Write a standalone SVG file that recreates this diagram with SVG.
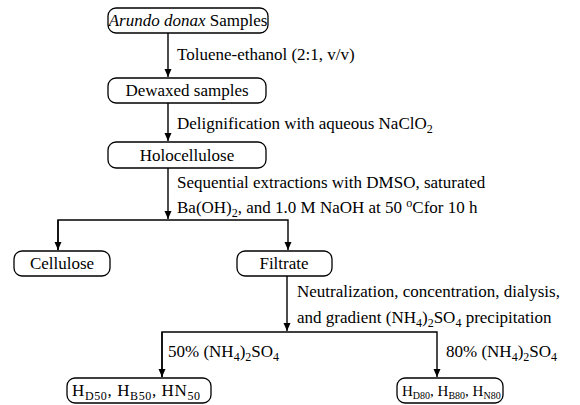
<svg xmlns="http://www.w3.org/2000/svg" width="580" height="405" viewBox="0 0 580 405">
<defs>
<marker id="ah" viewBox="0 0 8 12" refX="8" refY="6" markerWidth="8" markerHeight="12" markerUnits="userSpaceOnUse" orient="auto">
<path d="M0,2.5 L8,6 L0,9.5 Z" fill="#000"/>
</marker>
<style>
.box{fill:#fff;stroke:#000;stroke-width:1.3}
.t{font-family:'Liberation Serif','DejaVu Serif',serif;font-size:17px;fill:#000}
.c{text-anchor:middle}
.s{font-size:12px}
.sm{font-size:15px}
.s2{font-size:10px}
.ln{fill:none;stroke:#000;stroke-width:1.4}
</style>
</defs>
<rect width="580" height="405" fill="#fff"/>
<g id="connectors">
<path class="ln" d="M168,33 V77" marker-end="url(#ah)"/>
<path class="ln" d="M168,103 V141" marker-end="url(#ah)"/>
<path class="ln" d="M168,168 V219" marker-end="url(#ah)"/>
<path class="ln" d="M58,250 V220 H288 V250" marker-end="url(#ah)"/>
<path class="ln" d="M58,220 V250" marker-end="url(#ah)"/>
<path class="ln" d="M287,276 V331" marker-end="url(#ah)"/>
<path class="ln" d="M162,377 V332 H437 V377" marker-end="url(#ah)"/>
<path class="ln" d="M162,332 V377" marker-end="url(#ah)"/>
</g>
<g id="labels">
<text class="t" x="177" y="60">Toluene-ethanol (2:1, v/v)</text>
<text class="t" x="177" y="129">Delignification with aqueous NaClO<tspan class="s" dy="4">2</tspan></text>
<text class="t" x="177" y="188">Sequential extractions with DMSO, saturated</text>
<text class="t" x="177" y="213">Ba(OH)<tspan class="s" dy="4">2</tspan><tspan dy="-4">, and 1.0 M NaOH at 50 </tspan><tspan class="s" dy="-6">o</tspan><tspan dy="6">Cfor 10 h</tspan></text>
<text class="t" x="297" y="297">Neutralization, concentration, dialysis,</text>
<text class="t" x="297" y="323">and gradient (NH<tspan class="s" dy="4">4</tspan><tspan dy="-4">)</tspan><tspan class="s" dy="4">2</tspan><tspan dy="-4">SO</tspan><tspan class="s" dy="4">4</tspan><tspan dy="-4"> precipitation</tspan></text>
<text class="t" x="168" y="357">50% (NH<tspan class="s" dy="4">4</tspan><tspan dy="-4">)</tspan><tspan class="s" dy="4">2</tspan><tspan dy="-4">SO</tspan><tspan class="s" dy="4">4</tspan></text>
<text class="t" x="446" y="357">80% (NH<tspan class="s" dy="4">4</tspan><tspan dy="-4">)</tspan><tspan class="s" dy="4">2</tspan><tspan dy="-4">SO</tspan><tspan class="s" dy="4">4</tspan></text>
</g>
<g id="n1"><rect class="box" x="108" y="8" width="160" height="25" rx="8"/><text class="t c" x="188" y="26"><tspan font-style="italic">Arundo donax</tspan> Samples</text></g>
<g id="n2"><rect class="box" x="108" y="78" width="158" height="25" rx="8"/><text class="t c" x="187" y="96">Dewaxed samples</text></g>
<g id="n3"><rect class="box" x="108" y="142" width="158" height="26" rx="8"/><text class="t c" x="187" y="161">Holocellulose</text></g>
<g id="n4"><rect class="box" x="14" y="251" width="96" height="25" rx="8"/><text class="t c" x="62" y="269">Cellulose</text></g>
<g id="n5"><rect class="box" x="237" y="251" width="95" height="25" rx="8"/><text class="t c" x="284" y="269">Filtrate</text></g>
<g id="n6"><rect class="box" x="67" y="378" width="144" height="25" rx="8"/><text class="t" x="72" y="396" textLength="128" lengthAdjust="spacing">H<tspan class="s" dy="4">D50</tspan><tspan dy="-4">, H</tspan><tspan class="s" dy="4">B50</tspan><tspan dy="-4">, HN</tspan><tspan class="s" dy="4">50</tspan></text></g>
<g id="n7"><rect class="box" x="397" y="378" width="106" height="25" rx="8"/><text class="t sm" x="402" y="396">H<tspan class="s2" dy="3">D80</tspan><tspan dy="-3">, H</tspan><tspan class="s2" dy="3">B80</tspan><tspan dy="-3">, H</tspan><tspan class="s2" dy="3">N80</tspan></text></g>
</svg>
